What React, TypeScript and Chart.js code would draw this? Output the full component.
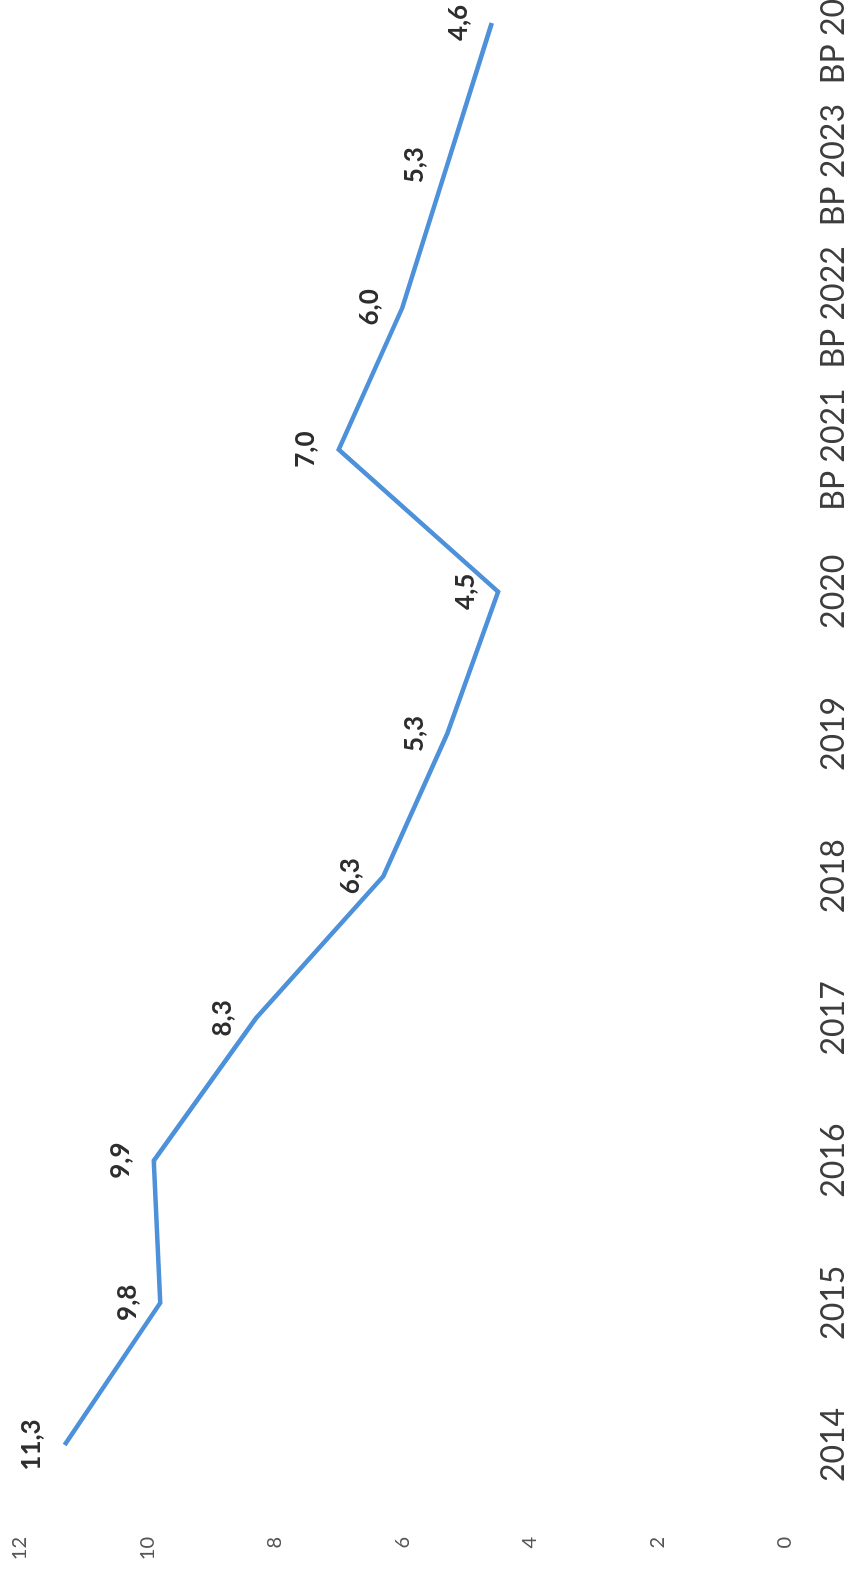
import React, { useEffect, useRef } from "react";
import { Chart, registerables } from "chart.js";

Chart.register(...registerables);

const categories = ["2014", "2015", "2016", "2017", "2018", "2019", "2020", "BP 2021", "BP 2022", "BP 2023", "BP 2024"];
const values = [11.3, 9.8, 9.9, 8.3, 6.3, 5.3, 4.5, 7.0, 6.0, 5.3, 4.6];
const valueTicks = [0, 2, 4, 6, 8, 10, 12];

const PAGE_W = 849;
const PAGE_H = 1573;
const CANVAS_W = 1600;
const CANVAS_H = 849;

const dataLabels = {
  id: "dataLabels",
  afterDatasetsDraw(chart: any) {
    const ctx = chart.ctx;
    const meta = chart.getDatasetMeta(0);
    ctx.save();
    ctx.font = "bold 26px Lato";
    ctx.fillStyle = "#2e2e2e";
    ctx.textAlign = "center";
    ctx.textBaseline = "middle";
    meta.data.forEach((pt: any, i: number) => {
      const v = chart.data.datasets[0].data[i] as number;
      ctx.fillText(v.toFixed(1).replace(".", ","), pt.x, pt.y - 33);
    });
    ctx.restore();
  },
};

export default function App() {
  const ref = useRef<HTMLCanvasElement | null>(null);
  useEffect(() => {
    if (!ref.current) return;
    const chart = new Chart(ref.current, {
      type: "line",
      data: {
        labels: categories,
        datasets: [
          {
            data: values,
            borderColor: "#4C91D9",
            borderWidth: 4.5,
            pointRadius: 0,
            tension: 0,
            fill: false,
          },
        ],
      },
      options: {
        animation: false,
        responsive: false,
        devicePixelRatio: 1,
        layout: { padding: { left: 0, right: 50, top: 20, bottom: 0 } },
        plugins: { legend: { display: false }, tooltip: { enabled: false } },
        scales: {
          x: {
            type: "category",
            offset: false,
            grid: { display: false, drawTicks: false },
            border: { display: false },
            ticks: {
              autoSkip: false,
              maxRotation: 0,
              minRotation: 0,
              padding: 29,
              color: "#3d3d3d",
              font: { family: "Lato", size: 32 },
            },
            afterFit: (s: any) => {
              s.height = 64;
              s.paddingLeft = 0;
              s.paddingRight = 0;
            },
          },
          y: {
            type: "linear",
            min: 0,
            max: 12,
            grid: { display: false, drawTicks: false },
            border: { display: false },
            afterBuildTicks: (s: any) => {
              s.ticks = valueTicks.map((v) => ({ value: v }));
            },
            ticks: {
              padding: 92,
              color: "#555555",
              font: { family: "Lato", size: 20 },
            },
            afterFit: (s: any) => {
              s.width = 128;
              s.paddingTop = 0;
              s.paddingBottom = 0;
            },
          },
        },
      },
      plugins: [dataLabels],
    });
    return () => chart.destroy();
  }, []);

  return (
    <div
      style={{
        position: "absolute",
        left: 0,
        top: 0,
        width: PAGE_W,
        height: PAGE_H,
        overflow: "hidden",
        background: "#ffffff",
      }}
    >
      <canvas
        ref={ref}
        width={CANVAS_W}
        height={CANVAS_H}
        style={{
          position: "absolute",
          left: 0,
          top: 0,
          width: CANVAS_W,
          height: CANVAS_H,
          transformOrigin: "0 0",
          transform: `translate(0px, ${PAGE_H}px) rotate(-90deg)`,
        }}
      />
    </div>
  );
}
